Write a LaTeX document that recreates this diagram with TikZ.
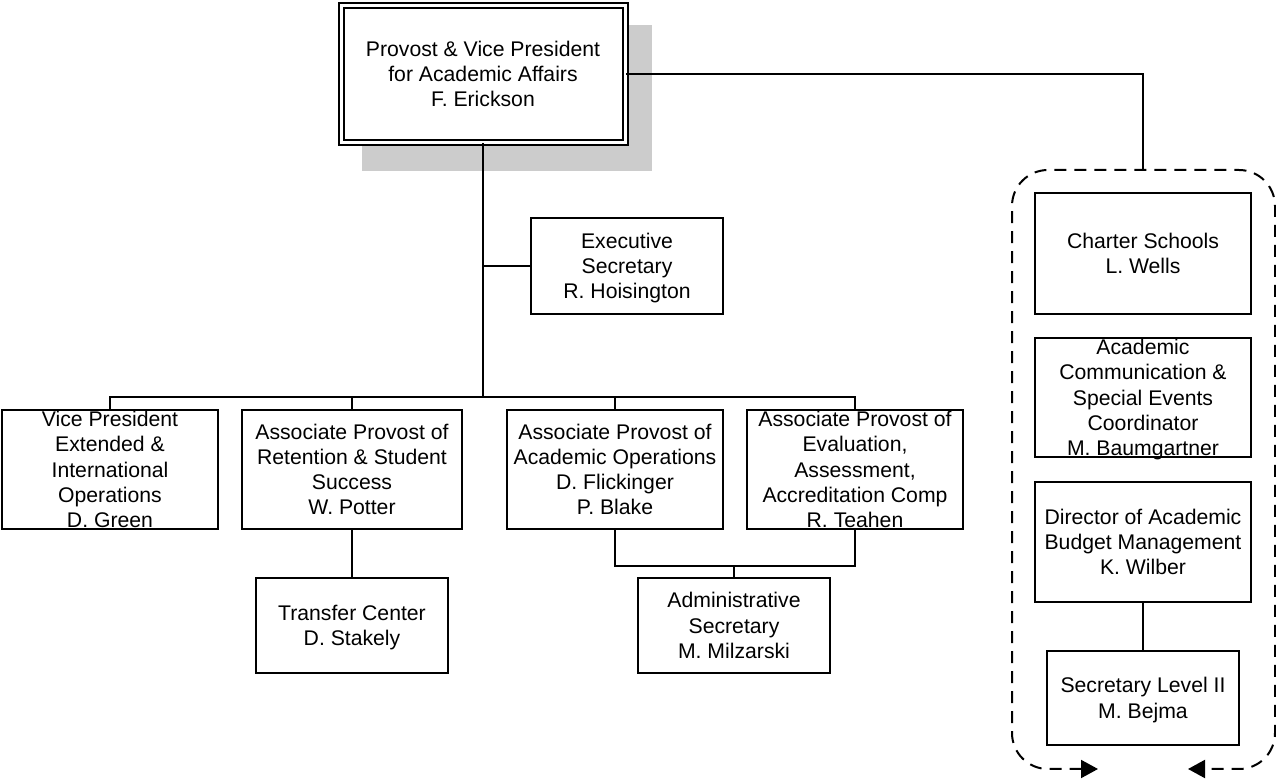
\documentclass[tikz,border=0pt]{standalone}
\usepackage{fontspec}
\setmainfont{Liberation Sans}
\usetikzlibrary{arrows.meta}
\definecolor{shadowgray}{HTML}{CCCCCC}
\newcommand{\boxlines}[1]{\smash{\raisebox{-4pt}{\begin{tabular}{@{}c@{}}#1\end{tabular}}}}

\begin{document}
\begin{tikzpicture}[x=0.5pt, y=-0.5pt, line width=1pt, font=\fontsize{10.6}{12.6}\selectfont,
  box/.style 2 args={draw, fill=white, inner sep=0pt, minimum width=#1*0.5pt, minimum height=#2*0.5pt}]
\useasboundingbox (0,0) rectangle (1276,780);

\fill[shadowgray] (362,25) rectangle (652,171);
\node[box={284}{137}, double, double distance=1.5pt] (prov) at (483,74) {\boxlines{Provost \& Vice President\\for Academic Affairs\\F. Erickson}};
\node[box={192}{96}] (exec) at (627,266) {\boxlines{Executive\\Secretary\\R. Hoisington}};

\node[box={216}{119}] (vp) at (110,469.5) {\boxlines{Vice President\\Extended \&\\International\\Operations\\D. Green}};
\node[box={220}{119}] (retn) at (352,469.5) {\boxlines{Associate Provost of\\Retention \& Student\\Success\\W. Potter}};
\node[box={216}{119}] (acops) at (615,469.5) {\boxlines{Associate Provost of\\Academic Operations\\D. Flickinger\\P. Blake}};
\node[box={216}{119}] (eval) at (855,469.5) {\boxlines{Associate Provost of\\Evaluation,\\Assessment,\\Accreditation Comp\\R. Teahen}};

\node[box={192}{95}] (trans) at (352,625.5) {\boxlines{Transfer Center\\D. Stakely}};
\node[box={192}{95}] (admin) at (734,625.5) {\boxlines{Administrative\\Secretary\\M. Milzarski}};

\node[box={216}{121}] (chart) at (1143,253.5) {\boxlines{Charter Schools\\L. Wells}};
\node[box={216}{119}] (comm) at (1143,397.5) {\boxlines{Academic\\Communication \&\\Special Events\\Coordinator\\M. Baumgartner}};
\node[box={216}{120}] (budg) at (1143,542) {\boxlines{Director of Academic\\Budget Management\\K. Wilber}};
\node[box={192}{94}] (secr) at (1143,698) {\boxlines{Secretary Level II\\M. Bejma}};

\coordinate (bus) at (483,397);
\coordinate (join) at (734,566);
\coordinate (tee) at (1143,170);

\draw (prov) -- (bus);
\draw (exec.west) -- (exec.west -| bus);
\draw (vp.north) |- (eval.north |- bus) -- (eval.north);
\draw (retn.north) -- (retn.north |- bus);
\draw (acops.north) -- (acops.north |- bus);
\draw (retn) -- (trans);
\draw (acops.south) |- (join) -| (eval.south);
\draw (join) -- (admin);

\draw (prov.east) -| (tee);
\draw (budg) -- (secr);

%\draw[dotted] (1012,170) rectangle (1275,769);
\draw[dash pattern=on 6pt off 4pt, rounded corners=18pt, {Triangle[length=8.5pt,width=9pt]}-{Triangle[length=8.5pt,width=9pt]}]
  (1098,769) -- (1012,769) -- (1012,170) -- (1275,170) -- (1275,769) -- (1188,769);

\end{tikzpicture}
\end{document}
